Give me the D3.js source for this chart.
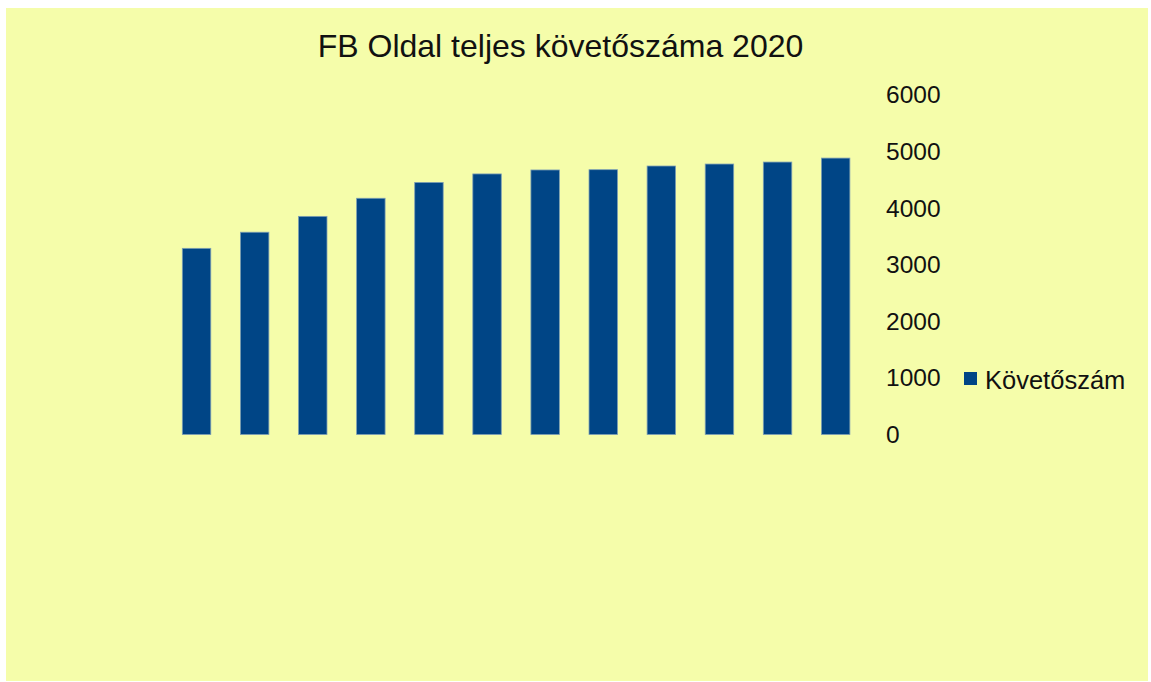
<!DOCTYPE html>
<html>
<head>
<meta charset="utf-8">
<script src="https://cdn.jsdelivr.net/npm/d3@7"></script>
<style>
  body { margin: 0; background: #ffffff; }
  text { font-family: "Liberation Sans", Arial, sans-serif; fill: #111; }
</style>
</head>
<body>
<div id="chart"></div>
<script>
(function() {
    // Data
    const months = ["Január", "Február", "Március", "Április", "Május", "Június",
                    "Július", "Augusztus", "Szeptember", "Október", "November", "December"];
    const followers = [3290, 3575, 3855, 4175, 4455, 4605, 4675, 4680, 4745, 4780, 4815, 4885];
    const yTicks = [0, 1000, 2000, 3000, 4000, 5000, 6000];
    const seriesName = "Követőszám";
    const title = "FB Oldal teljes követőszáma 2020";

    const W = 1151, H = 682;
    const barColor = "#004586";

    const svg = d3.select("#chart")
        .append("svg")
        .attr("width", W)
        .attr("height", H);

    // Chart background
    svg.append("rect")
        .attr("x", 6)
        .attr("y", 8)
        .attr("width", 1142)
        .attr("height", 673)
        .attr("fill", "#f5fdaa");

    // Scales
    const x = d3.scaleBand()
        .domain(months)
        .range([167.5, 864.7])
        .paddingInner(0.51)
        .paddingOuter(0.255);

    const y = d3.scaleLinear()
        .domain([0, 6000])
        .range([434.5, 95]);

    // Title
    svg.append("text")
        .attr("x", 560.5)
        .attr("y", 56.5)
        .attr("text-anchor", "middle")
        .style("font-size", "32px")
        .text(title);

    // Bars
    svg.append("g")
        .selectAll("rect")
        .data(followers)
        .enter()
        .append("rect")
        .attr("x", (d, i) => x(months[i]))
        .attr("y", d => y(d))
        .attr("width", x.bandwidth())
        .attr("height", d => y(0) - y(d))
        .attr("fill", barColor)
        .attr("stroke", "#7d9fb4")
        .attr("stroke-width", 0.8);

    // Y axis on the right, labels only
    const yAxis = svg.append("g")
        .attr("transform", "translate(886,0)")
        .call(d3.axisRight(y)
            .tickValues(yTicks)
            .tickFormat(d3.format("d"))
            .tickSize(0)
            .tickPadding(0));

    yAxis.select(".domain").remove();
    yAxis.selectAll("text")
        .attr("text-anchor", "start")
        .style("font-family", "\"Liberation Sans\", Arial, sans-serif")
        .style("font-size", "24.5px")
        .style("fill", "#111");

    // Legend
    const legend = svg.append("g")
        .attr("transform", "translate(964,372)");

    legend.append("rect")
        .attr("width", 13)
        .attr("height", 13)
        .attr("fill", barColor);

    legend.append("text")
        .attr("x", 21)
        .attr("y", 17)
        .style("font-size", "25.5px")
        .text(seriesName);
})();
</script>
</body>
</html>
